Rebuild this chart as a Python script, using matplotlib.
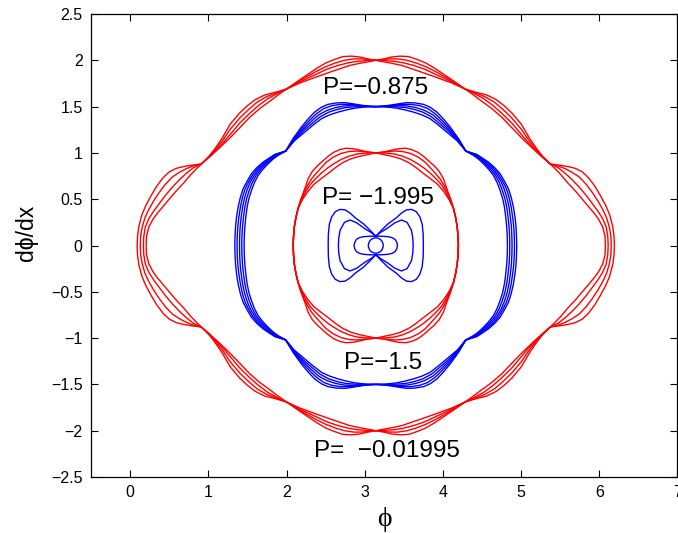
import numpy as np
import matplotlib
matplotlib.use('Agg')
import matplotlib.pyplot as plt
from matplotlib.patches import Ellipse

# each orbit is stored as its upper-left quarter (phi from the turning point up to pi)
# and mirrored about phi = pi and dphi = 0 to close it

# outer red family, P = -0.01995
outer_phi = [
  [0.09, 0.095, 0.11, 0.15, 0.20, 0.27, 0.34, 0.42, 0.50, 0.59, 0.68, 0.78, 0.91,
   1.0, 1.08, 1.17, 1.28, 1.40, 1.50, 1.60, 1.72, 1.86, 2.0,
   2.17, 2.38, 2.50, 2.60, 2.72, 2.83, 2.94, 3.04, np.pi],
  [0.13, 0.135, 0.155, 0.19, 0.24, 0.30, 0.37, 0.45, 0.54, 0.63, 0.72, 0.81, 0.91,
   1.0, 1.09, 1.18, 1.28, 1.40, 1.51, 1.62, 1.74, 1.87, 2.0,
   2.17, 2.38, 2.50, 2.62, 2.74, 2.86, 2.96, 3.05, np.pi],
  [0.17, 0.175, 0.195, 0.24, 0.30, 0.37, 0.45, 0.54, 0.63, 0.72, 0.81, 0.91,
   1.0, 1.10, 1.19, 1.28, 1.40, 1.52, 1.64, 1.76, 1.88, 2.0,
   2.17, 2.38, 2.52, 2.66, 2.80, 2.92, 3.04, np.pi],
  [0.205, 0.21, 0.24, 0.29, 0.35, 0.42, 0.49, 0.58, 0.68, 0.78, 0.85, 0.91,
   1.0, 1.10, 1.20, 1.28, 1.40, 1.53, 1.66, 1.79, 1.90, 2.0,
   2.17, 2.38, 2.60, 2.81, 2.95, 3.05, np.pi],
]
outer_dphi = [
  [0, 0.1, 0.2, 0.33, 0.43, 0.54, 0.64, 0.73, 0.795, 0.833, 0.852, 0.866, 0.88,
   0.955, 1.04, 1.15, 1.31, 1.43, 1.51, 1.575, 1.625, 1.655, 1.69,
   1.79, 1.91, 1.97, 2.005, 2.04, 2.045, 2.035, 2.015, 2.0],
  [0, 0.1, 0.2, 0.3, 0.39, 0.48, 0.57, 0.66, 0.74, 0.79, 0.83, 0.86, 0.88,
   0.952, 1.035, 1.13, 1.255, 1.375, 1.465, 1.545, 1.605, 1.648, 1.69,
   1.78, 1.88, 1.93, 1.97, 2.0, 2.015, 2.015, 2.008, 2.0],
  [0, 0.1, 0.2, 0.29, 0.37, 0.45, 0.54, 0.63, 0.71, 0.78, 0.84, 0.88,
   0.948, 1.03, 1.11, 1.20, 1.32, 1.42, 1.51, 1.585, 1.64, 1.69,
   1.767, 1.85, 1.905, 1.945, 1.975, 1.99, 1.997, 2.0],
  [0, 0.1, 0.2, 0.28, 0.35, 0.42, 0.49, 0.58, 0.67, 0.77, 0.83, 0.88,
   0.945, 1.02, 1.10, 1.165, 1.27, 1.385, 1.48, 1.56, 1.63, 1.69,
   1.755, 1.82, 1.885, 1.945, 1.97, 1.985, 2.0],
]

# blue family, P = -1.5
blue_phi = [
  [1.339, 1.342, 1.348, 1.36, 1.381, 1.41, 1.445, 1.50, 1.552, 1.62, 1.70, 1.78, 1.85, 1.99,
   2.08, 2.19, 2.28, 2.36, 2.45, 2.53, 2.64, 2.745, 2.85, 2.96, 3.05, np.pi],
  [1.368, 1.37, 1.377, 1.39, 1.41, 1.437, 1.47, 1.52, 1.573, 1.64, 1.716, 1.79, 1.86, 1.99,
   2.085, 2.20, 2.295, 2.385, 2.48, 2.58, 2.69, 2.80, 2.91, 3.03, np.pi],
  [1.399, 1.401, 1.407, 1.42, 1.438, 1.464, 1.497, 1.54, 1.594, 1.66, 1.733, 1.80, 1.87, 1.99,
   2.09, 2.21, 2.31, 2.41, 2.52, 2.63, 2.74, 2.85, 2.96, 3.05, np.pi],
  [1.428, 1.43, 1.437, 1.45, 1.467, 1.492, 1.525, 1.565, 1.615, 1.68, 1.75, 1.815, 1.88, 1.99,
   2.095, 2.22, 2.33, 2.43, 2.54, 2.65, 2.76, 2.87, 2.97, 3.06, np.pi],
  [1.458, 1.46, 1.467, 1.48, 1.496, 1.52, 1.552, 1.59, 1.637, 1.70, 1.765, 1.83, 1.893, 1.99,
   2.10, 2.234, 2.34, 2.448, 2.55, 2.66, 2.77, 2.873, 2.96, 3.04, np.pi],
]
blue_dphi = [
  [0, 0.1, 0.2, 0.3, 0.414, 0.52, 0.613, 0.70, 0.775, 0.84, 0.90, 0.945, 0.984, 1.02,
   1.15, 1.279, 1.37, 1.441, 1.495, 1.524, 1.54, 1.543, 1.53, 1.515, 1.505, 1.5],
  [0, 0.1, 0.2, 0.3, 0.414, 0.52, 0.61, 0.695, 0.77, 0.838, 0.895, 0.945, 0.982, 1.02,
   1.145, 1.266, 1.352, 1.425, 1.48, 1.51, 1.524, 1.525, 1.515, 1.505, 1.5],
  [0, 0.1, 0.2, 0.305, 0.414, 0.515, 0.605, 0.69, 0.766, 0.834, 0.89, 0.94, 0.98, 1.02,
   1.14, 1.253, 1.335, 1.41, 1.46, 1.49, 1.507, 1.512, 1.507, 1.502, 1.5],
  [0, 0.1, 0.2, 0.308, 0.414, 0.512, 0.60, 0.685, 0.762, 0.83, 0.887, 0.937, 0.977, 1.02,
   1.135, 1.24, 1.32, 1.39, 1.44, 1.47, 1.49, 1.497, 1.5, 1.5, 1.5],
  [0, 0.1, 0.2, 0.31, 0.414, 0.51, 0.595, 0.68, 0.757, 0.825, 0.883, 0.935, 0.973, 1.02,
   1.13, 1.225, 1.30, 1.37, 1.41, 1.441, 1.465, 1.483, 1.492, 1.498, 1.5],
]

# inner red family, P = -0.875; the strands share the stretch near the turning point
inner_base_phi = [2.085, 2.09, 2.10, 2.12, 2.148]
inner_base_dphi = [0, 0.1, 0.2, 0.3, 0.40]
inner_phi = [
  [2.175, 2.21, 2.245, 2.276, 2.33, 2.40, 2.447, 2.52, 2.60, 2.68, 2.76, 2.85, 2.95, 3.04, np.pi],
  [2.185, 2.225, 2.27, 2.32, 2.39, 2.45, 2.51, 2.60, 2.70, 2.80, 2.90, 3.00, np.pi],
  [2.195, 2.245, 2.30, 2.37, 2.45, 2.53, 2.60, 2.70, 2.80, 2.90, 3.02, np.pi],
  [2.20, 2.27, 2.35, 2.44, 2.55, 2.64, 2.72, 2.82, 2.92, 3.03, np.pi],
]
inner_dphi = [
  [0.48, 0.56, 0.64, 0.72, 0.80, 0.865, 0.90, 0.955, 1.005, 1.035, 1.05, 1.045, 1.028, 1.01, 1.0],
  [0.49, 0.575, 0.65, 0.72, 0.79, 0.845, 0.90, 0.955, 0.995, 1.015, 1.02, 1.012, 1.0],
  [0.49, 0.58, 0.655, 0.72, 0.785, 0.84, 0.88, 0.93, 0.965, 0.988, 0.998, 1.0],
  [0.49, 0.58, 0.66, 0.72, 0.79, 0.85, 0.895, 0.935, 0.96, 0.98, 1.0],
]

# small orbits around the centre, P = -1.995 (upper-right quarter from phi = pi)
bow_phi = [
  [np.pi, 3.22, 3.30, 3.406, 3.47, 3.535, 3.60, 3.66, 3.705, 3.735, 3.748, 3.75],
  [np.pi, 3.20, 3.279, 3.385, 3.47, 3.542, 3.598, 3.615, 3.62],
  [np.pi, 3.22, 3.30, 3.35, 3.39, 3.41, 3.42],
]
bow_dphi = [
  [0.10, 0.17, 0.235, 0.30, 0.35, 0.385, 0.39, 0.365, 0.31, 0.23, 0.12, 0.0],
  [0.10, 0.14, 0.18, 0.245, 0.275, 0.25, 0.165, 0.08, 0.0],
  [0.10, 0.10, 0.095, 0.085, 0.065, 0.035, 0.0],
]
centre = (np.pi, 0.0)
centre_size = (0.19, 0.165)

labels = ['P=\u22120.875', 'P= \u22121.995', 'P=\u22121.5', 'P=  \u22120.01995']
label_phi = [2.468, 2.455, 2.733, 2.349]
label_dphi = [1.64, 0.443, -1.333, -2.289]

xticks = [0, 1, 2, 3, 4, 5, 6, 7]
yticks = [-2.5, -2, -1.5, -1, -0.5, 0, 0.5, 1, 1.5, 2, 2.5]
ytick_labels = ['\u22122.5', '\u22122', '\u22121.5', '\u22121', '\u22120.5', '0',
                '0.5', '1', '1.5', '2', '2.5']


def closed_orbit(q_phi, q_dphi):
  # start and finish at the top (phi = pi) where the strands meet
  p = np.asarray(q_phi, dtype=float)
  d = np.asarray(q_dphi, dtype=float)
  c = 2 * np.pi
  xs = np.concatenate([c - p[::-1], c - p[1:], p[::-1][1:], p[1:]])
  ys = np.concatenate([d[::-1], -d[1:], -d[::-1][1:], d[1:]])
  return xs, ys


def butterfly(q_phi, q_dphi):
  p = np.asarray(q_phi, dtype=float)
  d = np.asarray(q_dphi, dtype=float)
  c = 2 * np.pi
  xs = np.concatenate([p, p[::-1][1:], c - p[1:], c - p[::-1][1:]])
  ys = np.concatenate([d, -d[::-1][1:], -d[1:], d[::-1][1:]])
  return xs, ys


plt.rcParams['font.family'] = ['Liberation Sans', 'DejaVu Sans']

fig = plt.figure(figsize=(6.78, 5.33), dpi=100)
ax = fig.add_axes([91 / 678, 56 / 533, 586.5 / 678, 463 / 533])

lw = 1.0
style = dict(lw=lw, solid_joinstyle='round', solid_capstyle='round')
for ph, dp in zip(outer_phi, outer_dphi):
  x, y = closed_orbit(ph, dp)
  ax.plot(x, y, color='r', **style)
for ph, dp in zip(blue_phi, blue_dphi):
  x, y = closed_orbit(ph, dp)
  ax.plot(x, y, color='b', **style)
for ph, dp in zip(inner_phi, inner_dphi):
  x, y = closed_orbit(inner_base_phi + ph, inner_base_dphi + dp)
  ax.plot(x, y, color='r', **style)
for ph, dp in zip(bow_phi, bow_dphi):
  x, y = butterfly(ph, dp)
  ax.plot(x, y, color='b', **style)
ax.add_patch(Ellipse(centre, centre_size[0], centre_size[1], fill=False, edgecolor='b', lw=lw))

for t, x, y in zip(labels, label_phi, label_dphi):
  ax.text(x, y, t, fontsize=17.5, va='baseline', ha='left')

ax.set_xlim(-0.5, 7)
ax.set_ylim(-2.5, 2.5)
ax.set_xticks(xticks)
ax.set_yticks(yticks)
ax.set_yticklabels(ytick_labels)
ax.tick_params(direction='in', top=True, right=True, length=5, width=0.8, labelsize=11.5, pad=6)
for s in ax.spines.values():
  s.set_linewidth(0.9)

ax.set_xlabel('\u03d5', fontsize=20, family=['Liberation Serif', 'DejaVu Serif'])
ax.xaxis.set_label_coords(0.5, -0.065)
ax.set_ylabel('d\u03d5/dx', fontsize=16.5)
ax.yaxis.set_label_coords(-0.09, 0.527)

fig.savefig('out.png', dpi=100)
